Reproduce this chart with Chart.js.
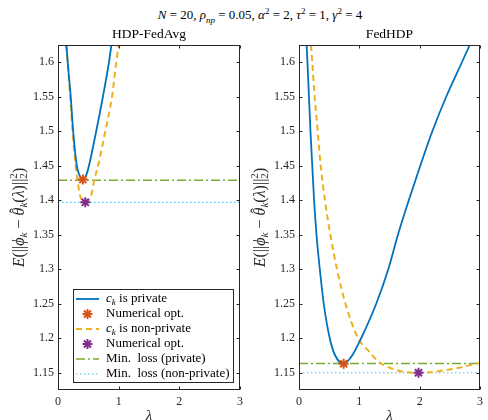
<!DOCTYPE html>
<html>
<head>
<meta charset="utf-8">
<script src="https://cdn.jsdelivr.net/npm/chart.js@4.4.0/dist/chart.umd.min.js"></script>
<style>
  body { margin: 0; background: #fff; }
  #wrap { position: relative; width: 488px; height: 420px; overflow: hidden; font-family: "Liberation Serif", serif; }
  #sup { position: absolute; top: 8px; left: 0; width: 520px; text-align: center; font-size: 13px; line-height: 14px; color: #000; }
  #sup sub, #sup sup { font-size: 9px; line-height: 0; }
  canvas { position: absolute; top: 0; }
</style>
</head>
<body>
<div id="wrap">
  <div id="sup"><i>N</i> = 20, <i>ρ</i><sub><i>np</i></sub> = 0.05, <i>α</i><sup>2</sup> = 2, <i>τ</i><sup>2</sup> = 1, <i>γ</i><sup>2</sup> = 4</div>
  <canvas id="left" width="248" height="420" style="left:0"></canvas>
  <canvas id="right" width="240" height="420" style="left:248px"></canvas>
</div>
<script>
// --- valores ---
const lamRange = [0, 3];
const lamTicks = [0, 1, 2, 3];
const lossRange = [1.125, 1.625];
const lossTicks = [1.15, 1.2, 1.25, 1.3, 1.35, 1.4, 1.45, 1.5, 1.55, 1.6];

// HDP-FedAvg
const avgPrivLam  = [0.14, 0.16, 0.21, 0.25, 0.31, 0.36, 0.41, 0.46, 0.51, 0.63, 0.74, 0.84, 0.88];
const avgPrivLoss = [1.625, 1.60, 1.55, 1.50, 1.45, 1.435, 1.43, 1.435, 1.45, 1.50, 1.55, 1.60, 1.625];
const avgNonPrivLam  = [0.13, 0.16, 0.20, 0.24, 0.29, 0.32, 0.36, 0.45, 0.55, 0.60, 0.66, 0.78, 0.89, 0.96, 1.00];
const avgNonPrivLoss = [1.625, 1.60, 1.55, 1.50, 1.45, 1.43, 1.408, 1.397, 1.408, 1.43, 1.45, 1.50, 1.55, 1.60, 1.625];
const avgOptLam  = [0.41, 0.45];   // privado, não privado
const avgOptLoss = [1.43, 1.397];
const avgMinLoss = [1.429, 1.397];

// FedHDP
const fedPrivLam  = [0.126, 0.14, 0.165, 0.19, 0.22, 0.25, 0.29, 0.345, 0.41, 0.51, 0.60, 0.74, 0.88, 1.03, 1.28, 1.48, 1.64, 1.82, 2.01, 2.21, 2.44, 2.70, 2.83];
const fedPrivLoss = [1.625, 1.60, 1.55, 1.50, 1.45, 1.40, 1.35, 1.30, 1.25, 1.20, 1.175, 1.163, 1.175, 1.20, 1.25, 1.30, 1.35, 1.40, 1.45, 1.50, 1.55, 1.60, 1.625];
const fedNonPrivLam  = [0.20, 0.22, 0.26, 0.31, 0.36, 0.43, 0.52, 0.63, 0.77, 0.98, 1.16, 1.32, 1.51, 1.76, 1.98, 2.22, 2.44, 2.69, 2.93, 3.00];
const fedNonPrivLoss = [1.625, 1.60, 1.55, 1.50, 1.45, 1.40, 1.35, 1.30, 1.25, 1.20, 1.181, 1.166, 1.157, 1.151, 1.15, 1.151, 1.154, 1.158, 1.163, 1.164];
const fedOptLam  = [0.74, 1.98];
const fedOptLoss = [1.163, 1.15];
const fedMinLoss = [1.1634, 1.15];

const SERIF = '"Liberation Serif", "DejaVu Serif", serif';
const AXIS = '#262626';
const C = {
    blue: '#0072BD', orange: '#EDB120', red: '#D95319',
    purple: '#7E2F8E', green: '#77AC30', cyan: '#4DBEEE'
};

// texto com itálico / índices, desenhado na posição atual
function richText(ctx, parts, x, y, size, draw) {
    let cx = x;
    for (const p of parts) {
        const small = p.sub || p.sup;
        const fs = small ? size * 0.7 : size;
        ctx.font = (p.it ? 'italic ' : '') + fs + 'px ' + SERIF;
        const dy = p.sub ? size * 0.28 : p.sup ? -size * 0.36 : 0;
        const w = ctx.measureText(p.t).width;
        if (draw) {
            ctx.fillText(p.t, cx, y + dy);
            if (p.hat) {
                ctx.font = fs + 'px ' + SERIF;
                ctx.textAlign = 'center';
                ctx.fillText('ˆ', cx + w * 0.6, y - size * 0.18);
                ctx.textAlign = 'left';
            }
        }
        if (!p.stack) cx += w;
    }
    return cx - x;
}

const yLabel = [
    { t: 'E', it: 1 }, { t: '(||' }, { t: 'ϕ', it: 1 }, { t: 'k', it: 1, sub: 1 }, { t: ' − ' },
    { t: 'θ', it: 1, hat: 1 }, { t: 'k', it: 1, sub: 1 }, { t: '(' }, { t: 'λ', it: 1 }, { t: ')||' },
    { t: '2', sup: 1, stack: 1 }, { t: '2', sub: 1 }, { t: ')' }
];

// caixa + marcas internas (estilo MATLAB), título do painel e rótulo do eixo y
const axesBox = {
    id: 'axesBox',
    afterDraw(chart, args, opts) {
        const { ctx, chartArea: a, scales: { x, y } } = chart;
        const L = Math.round(a.left) + 0.5, R = Math.round(a.right) - 0.5;
        const T = Math.round(a.top) + 0.5, B = Math.round(a.bottom) - 0.5;
        ctx.save();
        ctx.strokeStyle = AXIS;
        ctx.lineWidth = 1;
        ctx.setLineDash([]);
        ctx.strokeRect(L, T, R - L, B - T);
        ctx.beginPath();
        x.ticks.forEach(t => {
            const px = Math.round(x.getPixelForValue(t.value)) + 0.5;
            ctx.moveTo(px, B); ctx.lineTo(px, B - 3);
            ctx.moveTo(px, T); ctx.lineTo(px, T + 3);
        });
        y.ticks.forEach(t => {
            const py = Math.round(y.getPixelForValue(t.value)) + 0.5;
            ctx.moveTo(L, py); ctx.lineTo(L + 3, py);
            ctx.moveTo(R, py); ctx.lineTo(R - 3, py);
        });
        ctx.stroke();

        // título do painel
        ctx.fillStyle = '#000';
        ctx.font = '13.5px ' + SERIF;
        ctx.textAlign = 'center';
        ctx.textBaseline = 'middle';
        ctx.fillText(opts.title, (a.left + a.right) / 2, a.top - 10.5);

        const size = 16;
        ctx.fillStyle = AXIS;
        ctx.textAlign = 'left';
        ctx.translate(a.left - 38, (a.top + a.bottom) / 2);
        ctx.rotate(-Math.PI / 2);
        const w = richText(ctx, yLabel, 0, 0, size, false);
        richText(ctx, yLabel, -w / 2, 0, size, true);
        ctx.restore();
    }
};

// legenda com moldura, desenhada a partir dos próprios datasets
const boxLegend = {
    id: 'boxLegend',
    afterDraw(chart, args, opts) {
        if (!opts.show) return;
        const { ctx, chartArea: a } = chart;
        const items = chart.data.datasets;
        const size = 13, rowH = 15, sample = 23;
        let textW = 0;
        items.forEach(ds => { textW = Math.max(textW, richText(ctx, ds.legendParts, 0, 0, size, false)); });
        const w = Math.round(3 + sample + 7 + textW + 5);
        const h = items.length * rowH + 4;
        const right = Math.round(a.right) - 6, bottom = Math.round(a.bottom) - 7;
        const left = right - w, top = bottom - h;
        ctx.save();
        ctx.fillStyle = '#fff';
        ctx.fillRect(left, top, w, h);
        ctx.strokeStyle = AXIS;
        ctx.lineWidth = 1;
        ctx.strokeRect(left + 0.5, top + 0.5, w - 1, h - 1);
        items.forEach((ds, i) => {
            const cy = top + 2 + rowH * (i + 0.5) + 0.5;
            const x0 = left + 3;
            if (ds.showLine === false) {
                ctx.strokeStyle = ds.borderColor;
                ctx.lineWidth = ds.pointBorderWidth;
                ctx.setLineDash([]);
                Chart.helpers.drawPoint(ctx, { pointStyle: 'star', radius: ds.pointRadius, borderWidth: ds.pointBorderWidth }, x0 + sample / 2, cy);
            } else {
                ctx.strokeStyle = ds.borderColor;
                ctx.lineWidth = ds.borderWidth;
                ctx.setLineDash(ds.borderDash || []);
                ctx.beginPath();
                ctx.moveTo(x0, cy); ctx.lineTo(x0 + sample, cy);
                ctx.stroke();
            }
            ctx.fillStyle = '#000';
            ctx.textBaseline = 'middle';
            ctx.textAlign = 'left';
            richText(ctx, ds.legendParts, x0 + sample + 7, cy, size, true);
        });
        ctx.restore();
    }
};

function pairs(xs, ys) { return xs.map((v, i) => ({ x: v, y: ys[i] })); }

function curve(xs, ys, color, dash, legendParts) {
    return {
        data: pairs(xs, ys), borderColor: color, borderWidth: dash ? 2 : 1.8,
        borderDash: dash || [], pointRadius: 0, cubicInterpolationMode: 'monotone',
        order: 1, legendParts
    };
}
function star(lam, loss, color) {
    return {
        data: [{ x: lam, y: loss }], showLine: false, pointStyle: 'star', pointRadius: 5,
        borderColor: color, backgroundColor: color, pointBorderWidth: 2, order: 0,
        legendParts: [{ t: 'Numerical opt.' }]
    };
}
function level(v, color, dash, width, text) {
    return {
        data: pairs(lamRange, [v, v]), borderColor: color, borderWidth: width, borderDash: dash,
        pointRadius: 0, order: 2, legendParts: [{ t: text }]
    };
}

function panel(id, title, priv, nonPriv, optLam, optLoss, minLoss, padL, padR, showLegend) {
    const ds = [
        curve(priv[0], priv[1], C.blue, null, [{ t: 'c', it: 1 }, { t: 'k', it: 1, sub: 1 }, { t: ' is private' }]),
        star(optLam[0], optLoss[0], C.red),
        curve(nonPriv[0], nonPriv[1], C.orange, [6, 4], [{ t: 'c', it: 1 }, { t: 'k', it: 1, sub: 1 }, { t: ' is non-private' }]),
        star(optLam[1], optLoss[1], C.purple),
        level(minLoss[0], C.green, [9, 3, 2, 3], 1.6, 'Min.  loss (private)'),
        level(minLoss[1], C.cyan, [1.5, 2.5], 1.2, 'Min.  loss (non-private)')
    ];
    const tickFont = { family: SERIF, size: 12 };
    return new Chart(document.getElementById(id), {
        type: 'line',
        data: { datasets: ds },
        plugins: [axesBox, boxLegend],
        options: {
            responsive: false,
            animation: false,
            events: [],
            layout: { padding: { left: padL, right: padR, top: 45, bottom: 0 } },
            plugins: {
                legend: { display: false },
                tooltip: { enabled: false },
                axesBox: { title },
                boxLegend: { show: showLegend }
            },
            scales: {
                x: {
                    type: 'linear', min: lamRange[0], max: lamRange[1],
                    afterBuildTicks: s => { s.ticks = lamTicks.map(v => ({ value: v })); },
                    afterFit: s => { s.height = 30; },
                    grid: { display: false, drawTicks: false },
                    border: { display: false },
                    ticks: { padding: 5, color: AXIS, font: tickFont, maxRotation: 0 },
                    title: {
                        display: true, text: 'λ', color: AXIS,
                        font: { family: SERIF, size: 15, style: 'italic', lineHeight: 1 },
                        padding: { top: 0, bottom: -4 }
                    }
                },
                y: {
                    min: lossRange[0], max: lossRange[1],
                    afterBuildTicks: s => { s.ticks = lossTicks.map(v => ({ value: v })); },
                    afterFit: s => { s.width = 40; },
                    grid: { display: false, drawTicks: false },
                    border: { display: false },
                    ticks: { padding: 4, color: AXIS, font: tickFont, callback: v => String(Math.round(v * 100) / 100) }
                }
            }
        }
    });
}

panel('left', 'HDP-FedAvg', [avgPrivLam, avgPrivLoss], [avgNonPrivLam, avgNonPrivLoss],
      avgOptLam, avgOptLoss, avgMinLoss, 18, 6, true);
panel('right', 'FedHDP', [fedPrivLam, fedPrivLoss], [fedNonPrivLam, fedNonPrivLoss],
      fedOptLam, fedOptLoss, fedMinLoss, 11, 6, false);
</script>
</body>
</html>
